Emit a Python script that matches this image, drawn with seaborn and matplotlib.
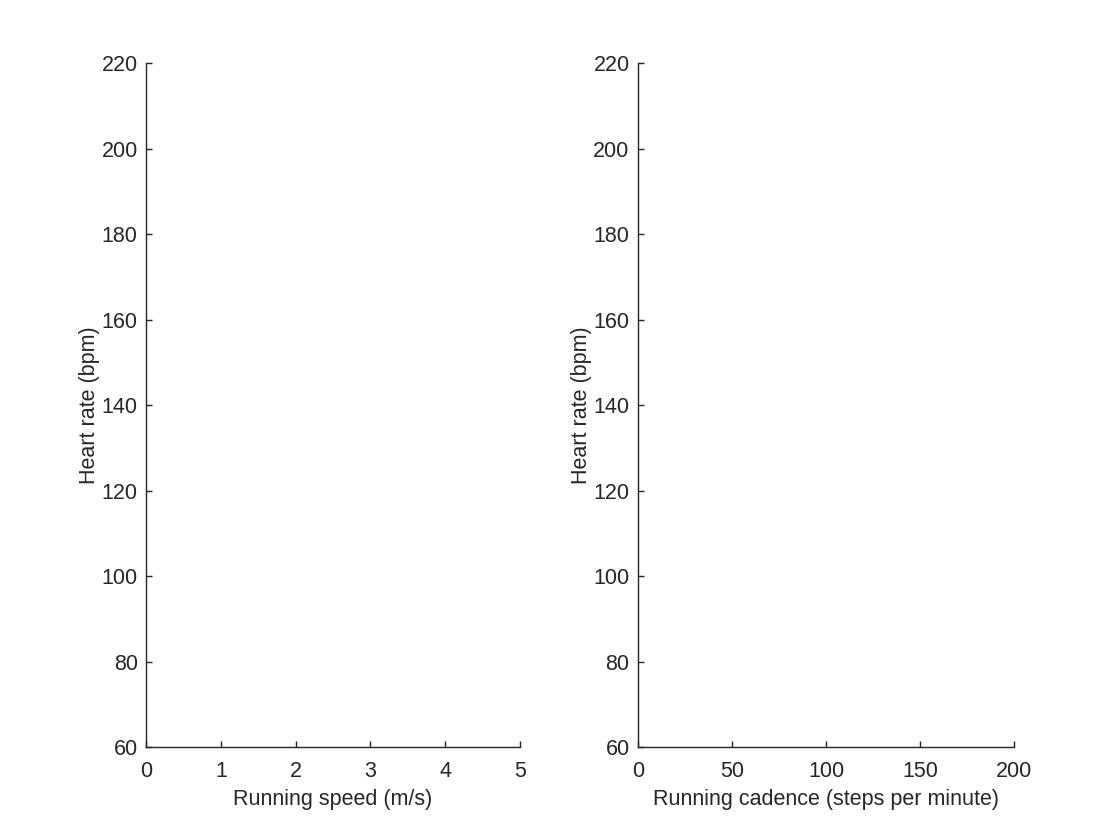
import matplotlib
matplotlib.use('Agg')
import matplotlib.pyplot as plt
import seaborn as sns

# no recorded samples: both panels are empty axes
speed = []          # m/s
cadence = []        # steps per minute
heart_rate = []     # bpm

hr_ticks = [60, 80, 100, 120, 140, 160, 180, 200, 220]
speed_ticks = [0, 1, 2, 3, 4, 5]
cadence_ticks = [0, 50, 100, 150, 200]

sns.set_style('white', {'xtick.bottom': True, 'ytick.left': True})
plt.rcParams['font.family'] = ['Liberation Sans', 'DejaVu Sans']
plt.rcParams['font.size'] = 15.5

fig = plt.figure(figsize=(11.2, 8.4), dpi=100)
ax1 = fig.add_axes([0.1304, 0.1107, 0.3339, 0.8143])
ax2 = fig.add_axes([0.5696, 0.1107, 0.3358, 0.8143])


def style_axis(ax, x, xticks, xlabel):
    sns.scatterplot(x=x, y=heart_rate, ax=ax)
    ax.set_xlim(xticks[0], xticks[-1])
    ax.set_ylim(hr_ticks[0], hr_ticks[-1])
    ax.set_xticks(xticks)
    ax.set_yticks(hr_ticks)
    ax.set_xlabel(xlabel, color='#262626', labelpad=5)
    ax.set_ylabel('Heart rate (bpm)', color='#262626', labelpad=1)
    for s in ['top', 'right']:
        ax.spines[s].set_visible(False)
    for s in ['left', 'bottom']:
        ax.spines[s].set_color('#262626')
        ax.spines[s].set_linewidth(1.0)
    ax.tick_params(direction='in', length=4, width=1.0, colors='#262626',
                   labelsize=15.5)
    ax.tick_params(axis='x', pad=10)
    ax.tick_params(axis='y', pad=6)


style_axis(ax1, speed, speed_ticks, 'Running speed (m/s)')
style_axis(ax2, cadence, cadence_ticks, 'Running cadence (steps per minute)')

fig.savefig('out.png', dpi=100, facecolor='white')
